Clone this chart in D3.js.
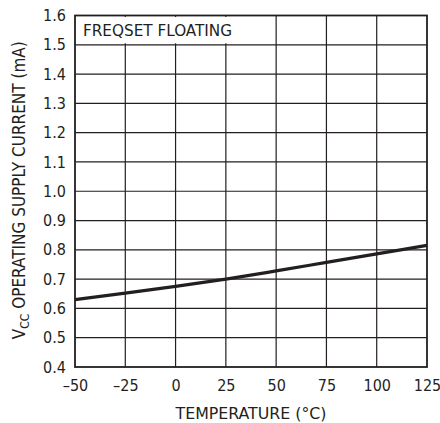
<!DOCTYPE html>
<html>
<head>
<meta charset="utf-8">
<script src="https://cdn.jsdelivr.net/npm/d3@7"></script>
<style>
  body { margin: 0; background: #fff; }
  svg text { font-family: "DejaVu Sans Condensed", "Liberation Sans Narrow", sans-serif; font-stretch: condensed; fill: #231f20; }
</style>
</head>
<body>
<svg width="440" height="423"></svg>
<script>
var width = 440;
var height = 423;
var margin = {left: 75, right: 13, top: 15.5, bottom: 56};

// data
var temps = [-50, -25, 0, 25, 50, 75, 100, 125];
var current = [0.630, 0.652, 0.675, 0.700, 0.728, 0.757, 0.786, 0.815];
var xTicks = [-50, -25, 0, 25, 50, 75, 100, 125];
var yTicks = [0.4, 0.5, 0.6, 0.7, 0.8, 0.9, 1.0, 1.1, 1.2, 1.3, 1.4, 1.5, 1.6];

var svg = d3.select('svg');

var xScale = d3.scaleLinear().domain([-50, 125]).range([margin.left, width - margin.right]);
var yScale = d3.scaleLinear().domain([0.4, 1.6]).range([height - margin.bottom, margin.top]);

// grid
svg.append('g').selectAll('line.v')
  .data(xTicks.slice(1, -1))
  .enter().append('line')
  .attr('x1', function(d) { return xScale(d); })
  .attr('x2', function(d) { return xScale(d); })
  .attr('y1', yScale(1.6)).attr('y2', yScale(0.4))
  .attr('stroke', '#231f20').attr('stroke-width', 1.2);

svg.append('g').selectAll('line.h')
  .data(yTicks.slice(1, -1))
  .enter().append('line')
  .attr('y1', function(d) { return yScale(d); })
  .attr('y2', function(d) { return yScale(d); })
  .attr('x1', xScale(-50)).attr('x2', xScale(125))
  .attr('stroke', '#231f20').attr('stroke-width', 1.2);

// label box over the top row
svg.append('rect')
  .attr('x', xScale(-50) + 1).attr('y', yScale(1.6) + 1.5)
  .attr('width', 163).attr('height', yScale(1.5) - yScale(1.6) - 3)
  .attr('fill', '#fff');

svg.append('text')
  .attr('x', xScale(-50) + 8).attr('y', yScale(1.55) + 6)
  .style('font-size', '16px')
  .attr('textLength', 149).attr('lengthAdjust', 'spacingAndGlyphs')
  .text('FREQSET FLOATING');

// frame
svg.append('rect')
  .attr('x', xScale(-50)).attr('y', yScale(1.6))
  .attr('width', xScale(125) - xScale(-50))
  .attr('height', yScale(0.4) - yScale(1.6))
  .attr('fill', 'none').attr('stroke', '#231f20').attr('stroke-width', 1.8);

// curve
var line = d3.line()
  .x(function(d, i) { return xScale(temps[i]); })
  .y(function(d) { return yScale(d); })
  .curve(d3.curveMonotoneX);

svg.append('path')
  .datum(current)
  .attr('d', line)
  .attr('fill', 'none')
  .attr('stroke', '#231f20')
  .attr('stroke-width', 3.2);

// axes labels
var axisBottom = d3.axisBottom(xScale).tickValues(xTicks).tickSize(0).tickPadding(13)
  .tickFormat(function(d) { return d < 0 ? '\u2013' + Math.abs(d) : d; });
var axisLeft = d3.axisLeft(yScale).tickValues(yTicks).tickSize(0).tickPadding(9)
  .tickFormat(d3.format('.1f'));

var gx = svg.append('g')
  .attr('transform', 'translate(0,' + (height - margin.bottom) + ')')
  .call(axisBottom);
var gy = svg.append('g')
  .attr('transform', 'translate(' + margin.left + ',0)')
  .call(axisLeft);

[gx, gy].forEach(function(g) {
  g.select('.domain').remove();
  g.selectAll('text').style('font-size', '16px').attr('fill', '#231f20');
});

// x title
svg.append('text')
  .attr('x', xScale(37.5)).attr('y', 419)
  .style('text-anchor', 'middle')
  .style('font-size', '16px')
  .attr('textLength', 151).attr('lengthAdjust', 'spacingAndGlyphs')
  .text('TEMPERATURE (\u00b0C)');

// y title
var yt = svg.append('text')
  .attr('transform', 'translate(25,' + (yScale(1.0) - 1) + ') rotate(-90)')
  .style('text-anchor', 'middle')
  .style('font-size', '17px');
yt.append('tspan').text('V');
yt.append('tspan').attr('dy', 4).style('font-size', '12px').text('CC');
yt.append('tspan').attr('dy', -4).text(' OPERATING SUPPLY CURRENT (mA)');
</script>
</body>
</html>
